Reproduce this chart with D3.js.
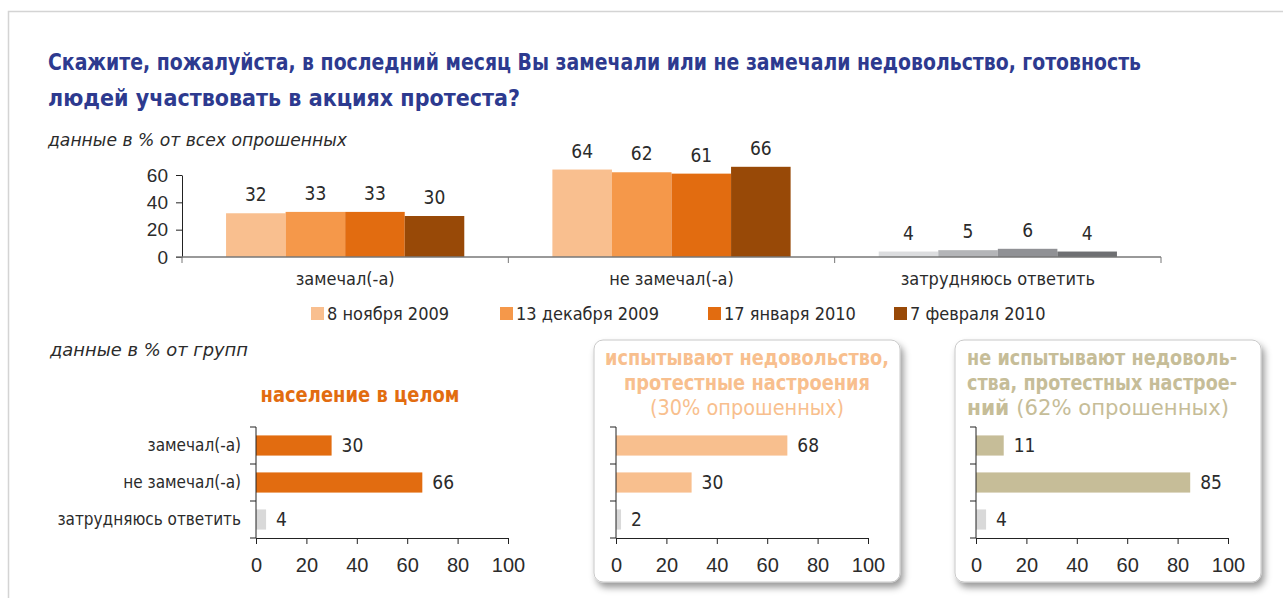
<!DOCTYPE html>
<html>
<head>
<meta charset="utf-8">
<script src="https://cdn.jsdelivr.net/npm/d3@7"></script>
<style>
    body { margin: 0; background: #fff; }
    svg { display: block; font-family: 'Liberation Sans Narrow', 'DejaVu Sans Condensed', 'Roboto', sans-serif; }
</style>
</head>
<body>
<div id="chart"></div>
<script>
// Survey chart: noticed / did not notice discontent (top: by wave, bottom: by group)

const titleLines = [
    'Скажите, пожалуйста, в последний месяц Вы замечали или не замечали недовольство, готовность',
    'людей участвовать в акциях протеста?'
];
const categories = ['замечал(-а)', 'не замечал(-а)', 'затрудняюсь ответить'];
const waves = ['8 ноября 2009', '13 декабря 2009', '17 января 2010', '7 февраля 2010'];
// values per category, one per wave
const noticedByWave = [32, 33, 33, 30];
const notNoticedByWave = [64, 62, 61, 66];
const hardToSayByWave = [4, 5, 6, 4];
const waveColors = ['#f9bf8f', '#f5984a', '#e26c10', '#984907'];
const greyColors = ['#dcdddf', '#b4b5b8', '#909195', '#6e6f72'];
const topTicks = [0, 20, 40, 60];

const groupTicks = [0, 20, 40, 60, 80, 100];
const totalValues = [30, 66, 4];
const dissatisfiedValues = [68, 30, 2];
const satisfiedValues = [11, 85, 4];

const W = 1283, H = 598;
const textColor = '#2b2b2b';

const svg = d3.select('#chart').append('svg')
    .attr('width', W)
    .attr('height', H);

const defs = svg.append('defs');
const shadow = defs.append('filter')
    .attr('id', 'shadow')
    .attr('x', '-10%').attr('y', '-10%')
    .attr('width', '125%').attr('height', '125%');
shadow.append('feDropShadow')
    .attr('dx', 3).attr('dy', 5)
    .attr('stdDeviation', 3.5)
    .attr('flood-color', '#000')
    .attr('flood-opacity', 0.4);

// page frame
svg.append('path')
    .attr('d', `M8.5,${H} L8.5,11.5 L${W},11.5`)
    .attr('fill', 'none')
    .attr('stroke', '#d4d4d4')
    .attr('stroke-width', 1.5);

// title
titleLines.forEach((t, i) => {
    svg.append('text')
        .attr('x', 48)
        .attr('y', 70 + i * 36)
        .attr('font-size', '23px')
        .attr('font-weight', 'bold')
        .attr('fill', '#2d3a8f')
        .attr('textLength', i === 0 ? 1093 : 472)
        .attr('lengthAdjust', 'spacingAndGlyphs')
        .text(t);
});

svg.append('text')
    .attr('x', 48)
    .attr('y', 146)
    .attr('font-size', '17px')
    .attr('font-style', 'italic')
    .attr('fill', textColor)
    .attr('textLength', 299)
    .attr('lengthAdjust', 'spacingAndGlyphs')
    .text('данные в % от всех опрошенных');

// ---------- top grouped bar chart ----------
const frame = { left: 182, right: 1161, zero: 257, top60: 175 };

const x0 = d3.scaleBand()
    .domain(categories)
    .range([frame.left, frame.right])
    .paddingInner(0.27)
    .paddingOuter(0.135);

const x1 = d3.scaleBand()
    .domain(waves)
    .range([0, x0.bandwidth()]);

const y = d3.scaleLinear()
    .domain([0, 60])
    .range([frame.zero, frame.top60]);

const topData = [noticedByWave, notNoticedByWave, hardToSayByWave];

const groups = svg.append('g').selectAll('g')
    .data(categories)
    .join('g')
    .attr('transform', d => `translate(${x0(d)},0)`);

groups.each(function (cat, ci) {
    const g = d3.select(this);
    const vals = topData[ci];
    const colors = ci === 2 ? greyColors : waveColors;
    waves.forEach((w, wi) => {
        g.append('rect')
            .attr('x', x1(w))
            .attr('y', y(vals[wi]))
            .attr('width', x1.bandwidth())
            .attr('height', y(0) - y(vals[wi]))
            .attr('fill', colors[wi]);
        g.append('text')
            .attr('x', x1(w) + x1.bandwidth() / 2)
            .attr('y', y(vals[wi]) - 12)
            .attr('text-anchor', 'middle')
            .attr('font-size', '19px')
            .attr('fill', textColor)
            .text(vals[wi]);
    });
});

// y axis
const yAxis = svg.append('g')
    .attr('transform', `translate(${frame.left},0)`)
    .call(d3.axisLeft(y).tickValues(topTicks).tickSize(6).tickSizeOuter(0).tickPadding(8));
yAxis.select('.domain').attr('stroke', '#222');
yAxis.selectAll('.tick line').attr('stroke', '#222');
yAxis.selectAll('.tick text')
    .attr('font-size', '19px')
    .attr('font-family', 'inherit')
    .attr('fill', textColor);

// x axis with boundary ticks
const xAxisG = svg.append('g');
xAxisG.append('line')
    .attr('x1', frame.left - 6).attr('x2', frame.right)
    .attr('y1', frame.zero).attr('y2', frame.zero)
    .attr('stroke', '#777')
    .attr('stroke-width', 1.6);
const step = x0.step();
d3.range(categories.length + 1).forEach(i => {
    const bx = frame.left + i * step;
    xAxisG.append('line')
        .attr('x1', bx).attr('x2', bx)
        .attr('y1', frame.zero).attr('y2', frame.zero + 6)
        .attr('stroke', '#777');
});
categories.forEach(c => {
    xAxisG.append('text')
        .attr('x', x0(c) + x0.bandwidth() / 2)
        .attr('y', 285)
        .attr('text-anchor', 'middle')
        .attr('font-size', '18px')
        .attr('fill', textColor)
        .text(c);
});

// legend
const legendX = [311, 500, 708, 894];
const legend = svg.append('g');
waves.forEach((w, i) => {
    legend.append('rect')
        .attr('x', legendX[i])
        .attr('y', 307)
        .attr('width', 13)
        .attr('height', 13)
        .attr('fill', waveColors[i]);
    legend.append('text')
        .attr('x', legendX[i] + 16)
        .attr('y', 320)
        .attr('font-size', '18px')
        .attr('fill', textColor)
        .text(w);
});

svg.append('text')
    .attr('x', 50)
    .attr('y', 356)
    .attr('font-size', '17px')
    .attr('font-style', 'italic')
    .attr('fill', textColor)
    .attr('textLength', 198)
    .attr('lengthAdjust', 'spacingAndGlyphs')
    .text('данные в % от групп');

// ---------- bottom horizontal panels ----------
function drawPanel(opts) {
    const g = svg.append('g');

    if (opts.box) {
        g.append('rect')
            .attr('x', opts.box[0])
            .attr('y', opts.box[1])
            .attr('width', opts.box[2])
            .attr('height', opts.box[3])
            .attr('rx', 9)
            .attr('fill', '#fff')
            .attr('stroke', '#c8c8c8')
            .attr('filter', 'url(#shadow)');
    }

    const x = d3.scaleLinear()
        .domain([0, 100])
        .range([opts.x0, opts.x0 + 252]);

    const yb = d3.scaleBand()
        .domain(categories)
        .range([427, 538])
        .paddingInner(0.455)
        .paddingOuter(0.2275);

    g.selectAll('rect.bar')
        .data(opts.values)
        .join('rect')
        .attr('class', 'bar')
        .attr('x', x(0))
        .attr('y', (d, i) => yb(categories[i]))
        .attr('width', d => x(d) - x(0))
        .attr('height', yb.bandwidth())
        .attr('fill', (d, i) => i === 2 ? '#d9d9d9' : opts.color);

    g.selectAll('text.val')
        .data(opts.values)
        .join('text')
        .attr('class', 'val')
        .attr('x', d => x(d) + 10)
        .attr('y', (d, i) => yb(categories[i]) + yb.bandwidth() / 2)
        .attr('dy', '0.35em')
        .attr('font-size', '19px')
        .attr('fill', textColor)
        .text(d => d);

    // y axis: vertical line with ticks at band boundaries
    const [r0, r1] = yb.range();
    g.append('line')
        .attr('x1', x(0)).attr('x2', x(0))
        .attr('y1', r0).attr('y2', r1)
        .attr('stroke', '#222');
    d3.range(categories.length + 1).forEach(i => {
        const by = r0 + i * yb.step();
        g.append('line')
            .attr('x1', x(0) - 6).attr('x2', x(0))
            .attr('y1', by).attr('y2', by)
            .attr('stroke', '#222');
    });

    if (opts.labels) {
        categories.forEach(c => {
            g.append('text')
                .attr('x', x(0) - 15)
                .attr('y', yb(c) + yb.bandwidth() / 2)
                .attr('dy', '0.35em')
                .attr('text-anchor', 'end')
                .attr('font-size', '17px')
                .attr('fill', textColor)
                .text(c);
        });
    }

    const xAxis = g.append('g')
        .attr('transform', `translate(0,${r1})`)
        .call(d3.axisBottom(x).tickValues(groupTicks).tickSize(6).tickSizeOuter(0).tickPadding(14));
    xAxis.select('.domain').attr('stroke', '#222');
    xAxis.selectAll('.tick line').attr('stroke', '#222');
    xAxis.selectAll('.tick text')
        .attr('font-size', '20px')
        .attr('font-family', 'inherit')
        .attr('fill', textColor);

    // panel heading
    opts.heading.forEach((line, i) => {
        const t = g.append('text')
            .attr('x', opts.headX)
            .attr('y', opts.headY + i * 25)
            .attr('text-anchor', line.anchor || 'middle')
            .attr('font-size', '21px')
            .attr('fill', opts.headColor);
        if (line.width) {
            t.attr('textLength', line.width).attr('lengthAdjust', 'spacingAndGlyphs');
        }
        line.parts.forEach(p => {
            t.append('tspan')
                .attr('font-weight', p.bold ? 'bold' : 'normal')
                .attr('font-size', p.bold ? '21px' : '22px')
                .text(p.text);
        });
    });
}

drawPanel({
    x0: 256,
    values: totalValues,
    color: '#e26c10',
    labels: true,
    headX: 360,
    headY: 402,
    headColor: '#e26c10',
    heading: [
        { parts: [{ text: 'население в целом', bold: true }], width: 199 }
    ]
});

drawPanel({
    x0: 616,
    values: dissatisfiedValues,
    color: '#f8bf8e',
    box: [594, 340, 306, 242],
    headX: 747,
    headY: 365,
    headColor: '#f8bf8e',
    heading: [
        { parts: [{ text: 'испытывают недовольство,', bold: true }], width: 284 },
        { parts: [{ text: 'протестные настроения', bold: true }], width: 246 },
        { parts: [{ text: '(30% опрошенных)', bold: false }], width: 194 }
    ]
});

drawPanel({
    x0: 976,
    values: satisfiedValues,
    color: '#c6bd98',
    box: [955, 340, 306, 242],
    headX: 967,
    headY: 365,
    headColor: '#c6bd98',
    heading: [
        { parts: [{ text: 'не испытывают недоволь-', bold: true }], width: 270, anchor: 'start' },
        { parts: [{ text: 'ства, протестных настрое-', bold: true }], width: 270, anchor: 'start' },
        { parts: [{ text: 'ний ', bold: true }, { text: '(62% опрошенных)', bold: false }], width: 262, anchor: 'start' }
    ]
});
</script>
</body>
</html>
